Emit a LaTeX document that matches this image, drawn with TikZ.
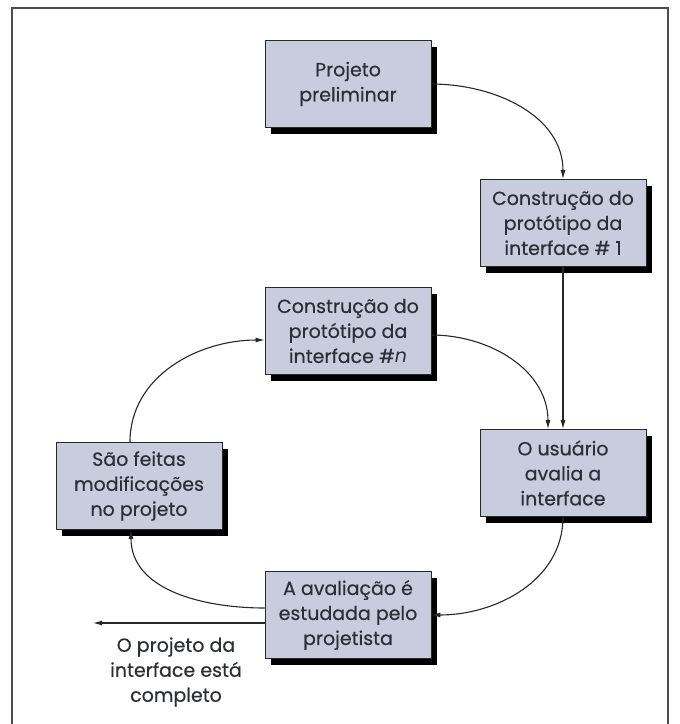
\documentclass[tikz,border=0pt]{standalone}
\usepackage{fontspec}
\setmainfont{Poppins}
\newfontfamily\etapafont{Poppins}[BoldFont=Poppins, BoldFeatures={FakeBold=0.5}]
\usetikzlibrary{arrows.meta,shadows,positioning}
\definecolor{boxfill}{RGB}{200,204,221}
\definecolor{textgray}{RGB}{45,47,56}
\definecolor{linegray}{RGB}{40,40,40}

\begin{document}
\begin{tikzpicture}[x=1pt, y=-1pt, >={Latex[length=9pt,width=5pt]},
    etapa/.style={draw=linegray, line width=0.8pt, fill=boxfill, text=textgray,
      minimum width=166pt, minimum height=87pt, align=center, inner sep=2pt,
      font=\etapafont\bfseries\fontsize{19}{25}\selectfont,
      drop shadow={shadow xshift=6pt, shadow yshift=-6pt, fill=black, opacity=1}},
    seta/.style={->, line width=1.1pt, draw=linegray},
    rotulo/.style={align=center, text=textgray, font=\etapafont\bfseries\fontsize{19}{25}\selectfont}]
            \useasboundingbox (0,0) rectangle (680,724);
            \fill[white] (0,0) rectangle (680,724);
            % --- Frame ---
            \draw[gray!60!black, line width=1.5pt] (12,730) -- (12,8) -- (668,8) -- (668,730);

            % --- Steps ---
            \node[etapa] (prelim) at (348,84) {Projeto\\preliminar};
            \node[etapa] (proto1) at (563,223) {Construção do\\protótipo da\\interface \# 1};
            \node[etapa] (protoN) at (348,331) {Construção do\\protótipo da\\interface \#\textit{n}};
            \node[etapa] (usuario) at (563,473) {O usuário\\avalia a\\interface};
            \node[etapa] (modific) at (139,486) {São feitas\\modificações\\no projeto};
            \node[etapa] (avaliacao) at (348,615) {A avaliação é\\estudada pelo\\projetista};

            % --- Connectors ---
            \draw[seta] (prelim.east) to[out=0, in=90] (proto1.north);
            \draw[seta] (proto1.south) -- (usuario.north);
            \draw[seta] ([yshift=-4pt]protoN.east) to[out=0, in=90] ([xshift=-15pt]usuario.north);
            \draw[seta] (usuario.south) to[out=-90, in=0] (avaliacao.east);
            \draw[seta] ([yshift=7pt]avaliacao.west) to[out=180, in=-90] ([xshift=-8pt]modific.south);
            \draw[seta] ([xshift=-9pt]modific.north) to[out=90, in=180] ([yshift=-9pt]protoN.west);

            % Exit
            \coordinate (fim) at (93,623);
            \draw[seta] ([yshift=-8pt]avaliacao.west) -- (fim);
            \node[rotulo] (completo) at (176,672) {O projeto da\\interface está\\completo};
        \end{tikzpicture}
\end{document}
